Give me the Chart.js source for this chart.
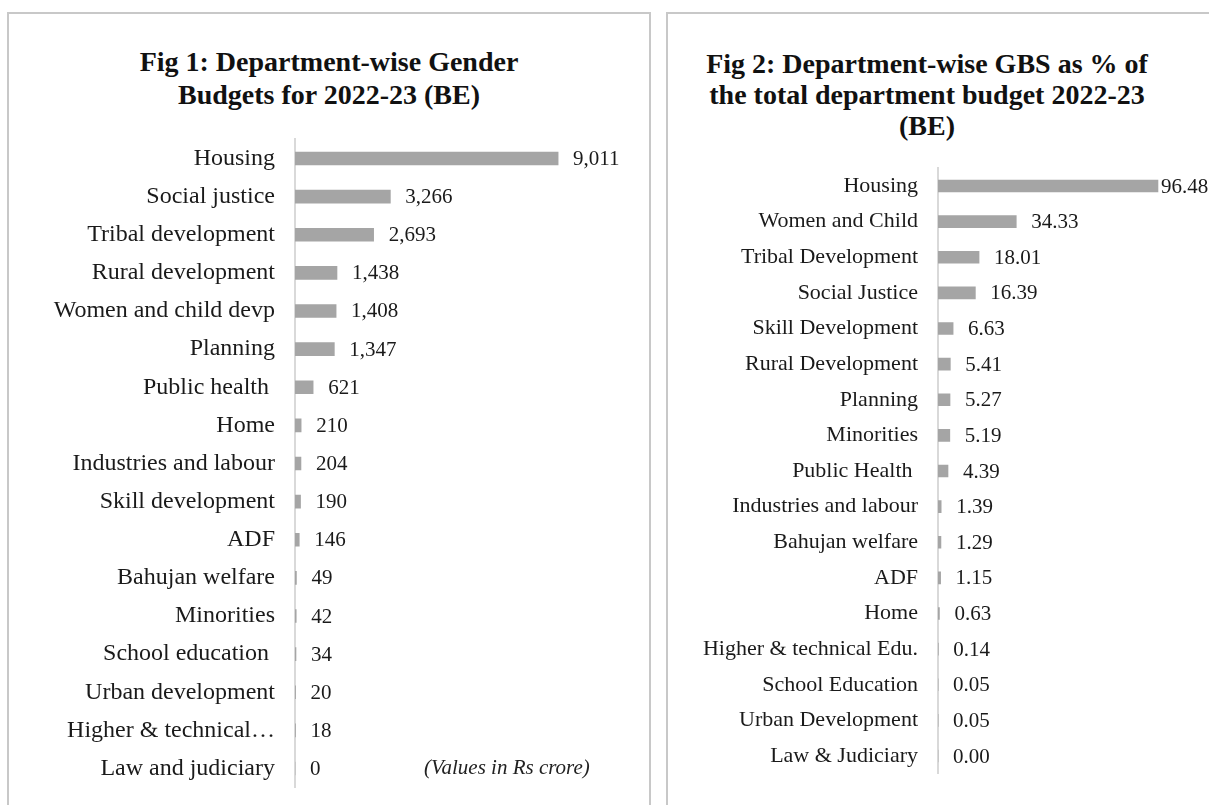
<!DOCTYPE html>
<html>
<head>
<meta charset="utf-8">
<script src="https://cdn.jsdelivr.net/npm/chart.js@4"></script>
<style>
  html, body { margin: 0; padding: 0; background: #fff; overflow: hidden; }
  body { width: 1209px; height: 805px; position: relative; font-family: "Liberation Serif", serif; }
  .panel { position: absolute; border: 2px solid #c8c8c8; border-bottom: none; }
  .title { position: absolute; text-align: center; font-weight: bold; font-size: 28px; line-height: 33px; color: #111; }
  canvas { position: absolute; }
  .note { position: absolute; font-style: italic; font-size: 21px; color: #222; }
</style>
</head>
<body>
<div class="panel" style="left:7px;top:12px;width:640px;height:820px"></div>
<div class="panel" style="left:666px;top:12px;width:600px;height:820px"></div>

<div class="title" style="left:9px;top:45px;width:640px">Fig 1: Department-wise Gender<br>Budgets for 2022-23 (BE)</div>
<div class="title" style="left:677px;top:48px;width:500px;line-height:31px">Fig 2: Department-wise GBS as % of<br>the total department budget 2022-23<br>(BE)</div>

<canvas id="chart1" width="640" height="717" style="left:9px;top:105px"></canvas>
<canvas id="chart2" width="542" height="672" style="left:667px;top:135px"></canvas>

<div class="note" style="left:424px;top:755px">(Values in Rs crore)</div>

<script>
// Fig 1 - gender budget, Rs crore
const deptNames1 = ['Housing', 'Social justice', 'Tribal development', 'Rural development',
    'Women and child devp', 'Planning', 'Public health ', 'Home', 'Industries and labour',
    'Skill development', 'ADF', 'Bahujan welfare', 'Minorities', 'School education ',
    'Urban development', 'Higher & technical…', 'Law and judiciary']
const gbValues = [9011, 3266, 2693, 1438, 1408, 1347, 621, 210, 204, 190, 146, 49, 42, 34, 20, 18, 0]

// Fig 2 - GBS as % of department budget
const deptNames2 = ['Housing', 'Women and Child', 'Tribal Development', 'Social Justice',
    'Skill Development', 'Rural Development', 'Planning', 'Minorities', 'Public Health ',
    'Industries and labour', 'Bahujan welfare', 'ADF', 'Home', 'Higher & technical Edu.',
    'School Education', 'Urban Development', 'Law & Judiciary']
const gbsPercent = [96.48, 34.33, 18.01, 16.39, 6.63, 5.41, 5.27, 5.19, 4.39, 1.39, 1.29, 1.15, 0.63, 0.14, 0.05, 0.05, 0.00]

const barGrey = '#a5a5a5'
const axisGrey = '#d9d9d9'
const serif = '"Liberation Serif", serif'

// writes the value next to the end of every bar
const valueLabels = {
    id: 'valueLabels',
    afterDatasetsDraw(chart, args, opts) {
        const ctx = chart.ctx
        const meta = chart.getDatasetMeta(0)
        ctx.save()
        ctx.font = opts.size + 'px ' + serif
        ctx.fillStyle = '#1a1a1a'
        ctx.textBaseline = 'middle'
        ctx.textAlign = 'left'
        meta.data.forEach((bar, i) => {
            const txt = opts.format(chart.data.datasets[0].data[i])
            const w = ctx.measureText(txt).width
            let x = bar.x + opts.gap
            if (x + w > chart.width) x = bar.x + 3
            ctx.fillText(txt, x, bar.y + 1)
        })
        ctx.restore()
    }
}

function makeChart(el, labels, values, cfg) {
    return new Chart(el, {
        type: 'bar',
        data: {
            labels: labels,
            datasets: [{
                data: values,
                backgroundColor: barGrey,
                barThickness: cfg.thickness
            }]
        },
        options: {
            indexAxis: 'y',
            responsive: false,
            devicePixelRatio: 1,
            animation: false,
            layout: { padding: cfg.padding },
            plugins: {
                legend: { display: false },
                tooltip: { enabled: false },
                valueLabels: { size: cfg.valueSize, gap: 15, format: cfg.format }
            },
            scales: {
                x: { display: false, min: 0, max: cfg.max },
                y: {
                    afterFit(scale) { scale.width = cfg.axisX },
                    grid: { display: true, drawOnChartArea: false, drawTicks: false },
                    border: { display: true, color: axisGrey, width: 2 },
                    ticks: {
                        padding: 20,
                        color: '#1a1a1a',
                        font: { family: serif, size: cfg.labelSize }
                    }
                }
            }
        },
        plugins: [valueLabels]
    })
}

makeChart(document.getElementById('chart1'), deptNames1, gbValues, {
    max: 10000,
    axisX: 286,
    thickness: 13,
    labelSize: 24,
    valueSize: 21,
    padding: { top: 0, bottom: 0, left: 0, right: 62 },
    format: v => v.toLocaleString('en-US')
})

makeChart(document.getElementById('chart2'), deptNames2, gbsPercent, {
    max: 100,
    axisX: 271,
    thickness: 12,
    labelSize: 22,
    valueSize: 21,
    padding: { top: 0, bottom: 0, left: 0, right: 43 },
    format: v => v.toFixed(2)
})
</script>
</body>
</html>
